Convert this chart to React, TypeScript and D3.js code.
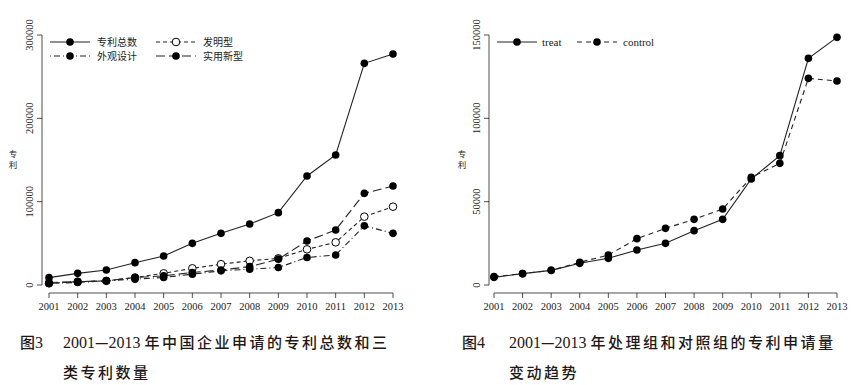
import * as d3 from "d3";

const years = [2001, 2002, 2003, 2004, 2005, 2006, 2007, 2008, 2009, 2010, 2011, 2012, 2013];

// Figure 3: patents by type
const totalPatents = [8800, 14000, 18000, 26800, 34800, 50000, 62000, 73200, 86800, 130800, 156000, 266000, 277200];
const inventionPatents = [2000, 4000, 5000, 9000, 14000, 20000, 25000, 29000, 32000, 42800, 51200, 82000, 94000];
const designPatents = [2000, 3000, 5000, 7000, 9000, 13000, 17000, 19000, 21000, 33000, 36000, 71000, 62000];
const utilityPatents = [3000, 4000, 5000, 9000, 11000, 15000, 18000, 22000, 31000, 52800, 66000, 110000, 118800];

// Figure 4: treatment vs control
const treatPatents = [4600, 6800, 8800, 13000, 16000, 21000, 25000, 32600, 39400, 63600, 77600, 136000, 148600];
const controlPatents = [5000, 6800, 8800, 13600, 18000, 27800, 34000, 39400, 45600, 64600, 73000, 124000, 122400];

const leftTicks = [0, 100000, 200000, 300000];
const rightTicks = [0, 50000, 100000, 150000];

const SERIF = "'Liberation Serif', 'DejaVu Serif', serif";
const CJK = "'Noto Sans CJK SC', sans-serif";
const INK = "#222";

type Series = { name: string; values: number[]; dash: string; open?: boolean };

function Panel({
  x0, x1, yTop, yBottom, max, ticks, series, legendCols, labelX, axisX,
}: {
  x0: number; x1: number; yTop: number; yBottom: number; max: number; ticks: number[];
  series: Series[]; legendCols: { lineX: number; textX: number }[]; labelX: number; axisX: number;
}) {
  const x = d3.scalePoint<number>().domain(years).range([x0, x1]);
  const y = d3.scaleLinear().domain([0, max]).range([yBottom, yTop]);
  const line = d3.line<number>().x((_, i) => x(years[i])!).y((d) => y(d));
  const axisY = yBottom + 8;

  return (
    <g>
      {/* y axis */}
      <line x1={axisX} x2={axisX} y1={y(0)} y2={y(max)} stroke={INK} strokeWidth={0.8} />
      {ticks.map((t) => (
        <g key={t}>
          <line x1={axisX - 5} x2={axisX} y1={y(t)} y2={y(t)} stroke={INK} strokeWidth={0.8} />
          <text
            transform={`translate(${axisX - 9},${y(t)}) rotate(-90)`}
            textAnchor="middle"
            fontFamily={SERIF}
            fontSize={10.5}
            fill={INK}
          >
            {t}
          </text>
        </g>
      ))}
      {/* y label, stacked vertically */}
      <text x={labelX} y={157} textAnchor="middle" fontFamily={CJK} fontSize={8.5} fill={INK}>专</text>
      <text x={labelX} y={168} textAnchor="middle" fontFamily={CJK} fontSize={8.5} fill={INK}>利</text>

      {/* x axis */}
      <line x1={x0} x2={x1} y1={axisY} y2={axisY} stroke={INK} strokeWidth={0.8} />
      {years.map((yr) => (
        <g key={yr}>
          <line x1={x(yr)} x2={x(yr)} y1={axisY} y2={axisY + 5} stroke={INK} strokeWidth={0.8} />
          <text x={x(yr)} y={axisY + 17} textAnchor="middle" fontFamily={SERIF} fontSize={10.5} fill={INK}>
            {yr}
          </text>
        </g>
      ))}

      {/* series */}
      {series.map((s) => (
        <g key={s.name}>
          <path d={line(s.values) ?? ""} fill="none" stroke={INK} strokeWidth={1.1} strokeDasharray={s.dash} />
          {s.values.map((v, i) => (
            <circle
              key={i}
              cx={x(years[i])}
              cy={y(v)}
              r={3.8}
              fill={s.open ? "#fff" : "#000"}
              stroke="#000"
              strokeWidth={s.open ? 1 : 0}
            />
          ))}
        </g>
      ))}

      {/* legend */}
      {series.map((s, i) => {
        const col = legendCols[i % legendCols.length];
        const ly = 42 + Math.floor(i / legendCols.length) * 14;
        const latin = /[a-z]/.test(s.name);
        return (
          <g key={s.name}>
            <line x1={col.lineX} x2={col.lineX + 40} y1={ly} y2={ly} stroke={INK} strokeWidth={1.1} strokeDasharray={s.dash} />
            <circle cx={col.lineX + 20} cy={ly} r={3.8} fill={s.open ? "#fff" : "#000"} stroke="#000" strokeWidth={s.open ? 1 : 0} />
            <text x={col.textX} y={ly + 3.5} fontFamily={latin ? SERIF : CJK} fontSize={latin ? 11 : 10} fill={INK}>
              {s.name}
            </text>
          </g>
        );
      })}
    </g>
  );
}

export default function App() {
  const leftSeries: Series[] = [
    { name: "专利总数", values: totalPatents, dash: "" },
    { name: "发明型", values: inventionPatents, dash: "4,3", open: true },
    { name: "外观设计", values: designPatents, dash: "1,3,6,3" },
    { name: "实用新型", values: utilityPatents, dash: "9,4" },
  ];
  const rightSeries: Series[] = [
    { name: "treat", values: treatPatents, dash: "" },
    { name: "control", values: controlPatents, dash: "5,4" },
  ];

  const caption = { fontFamily: CJK, fontSize: 15, fontWeight: 500, fill: "#231815" } as const;
  const cjkSpacing = 2.5;

  return (
    <svg width={865} height={385} style={{ position: "absolute", left: 0, top: 0, background: "#fff" }}>
      <rect width={865} height={385} fill="#fff" />
      <Panel
        x0={49} x1={393} yTop={35} yBottom={285} max={300000} ticks={leftTicks}
        series={leftSeries}
        legendCols={[{ lineX: 50, textX: 97 }, { lineX: 156, textX: 203 }]}
        labelX={13} axisX={42}
      />
      <Panel
        x0={494} x1={837} yTop={35} yBottom={285} max={150000} ticks={rightTicks}
        series={rightSeries}
        legendCols={[{ lineX: 497, textX: 542 }, { lineX: 577, textX: 623 }]}
        labelX={462} axisX={489}
      />

      {/* captions */}
      <text x={20} y={348} {...caption}>
        <tspan>图</tspan>
        <tspan fontFamily={SERIF} fontSize={16}>3</tspan>
        <tspan x={63} fontFamily={SERIF} fontSize={16}>2001</tspan>
        <tspan>—</tspan>
        <tspan fontFamily={SERIF} fontSize={16}>2013 </tspan>
        <tspan letterSpacing={cjkSpacing}>年中国企业申请的专利总数和三</tspan>
      </text>
      <text x={63} y={378} {...caption} letterSpacing={cjkSpacing}>类专利数量</text>

      <text x={462} y={348} {...caption}>
        <tspan>图</tspan>
        <tspan fontFamily={SERIF} fontSize={16}>4</tspan>
        <tspan x={509} fontFamily={SERIF} fontSize={16}>2001</tspan>
        <tspan>—</tspan>
        <tspan fontFamily={SERIF} fontSize={16}>2013 </tspan>
        <tspan letterSpacing={cjkSpacing}>年处理组和对照组的专利申请量</tspan>
      </text>
      <text x={509} y={378} {...caption} letterSpacing={cjkSpacing}>变动趋势</text>
    </svg>
  );
}
